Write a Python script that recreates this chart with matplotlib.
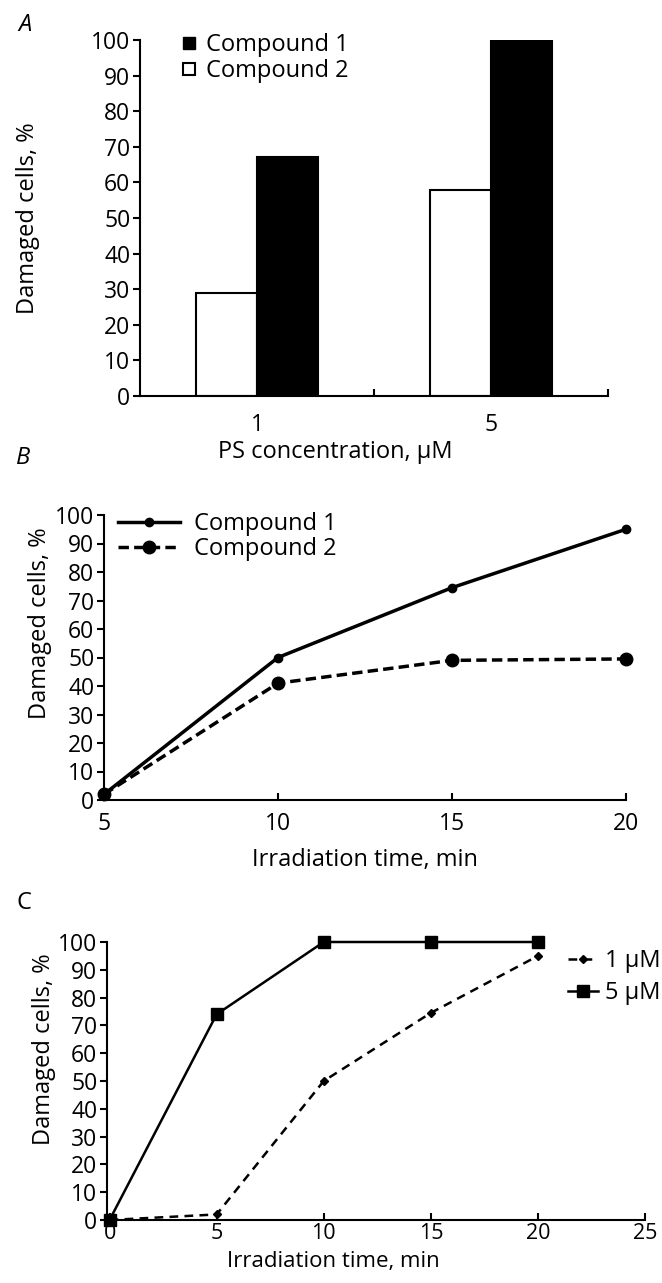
import numpy as np
import matplotlib
matplotlib.use('Agg')
import matplotlib.pyplot as plt
from matplotlib.lines import Line2D

plt.rcParams['font.family'] = ['Open Sans', 'DejaVu Sans']
plt.rcParams['axes.linewidth'] = 1.5

# Panel A : bars
conc_labels = ['1', '5']
comp1_bar = [67, 100]
comp2_bar = [29, 58]

# Panel B : irradiation time, compounds
time_b = [5, 10, 15, 20]
comp1_line = [2, 50, 74.5, 95]
comp2_line = [2, 41, 49, 49.5]

# Panel C : irradiation time, concentrations
time_c = [0, 5, 10, 15, 20]
conc1_line = [0, 2, 50, 74.5, 95]
conc5_line = [0, 74, 100, 100, 100]

W, H = 662, 1283
fig = plt.figure(figsize=(W / 100, H / 100), dpi=100)

fs_lab = 17
fs_tick = 16.5


def px_axes(l, t, r, b):
    return fig.add_axes([l / W, 1 - b / H, (r - l) / W, (b - t) / H])


def style(ax):
    ax.spines['top'].set_visible(False)
    ax.spines['right'].set_visible(False)
    ax.tick_params(axis='y', direction='out', length=5, width=1.5, labelsize=fs_tick, pad=2)
    ax.tick_params(axis='x', direction='in', length=5, width=1.5, labelsize=fs_tick, pad=6)
    ax.set_ylim(0, 100)
    ax.set_yticks(np.arange(0, 101, 10))


# ---------- A
axA = px_axes(140, 40, 608, 396)
style(axA)
x = np.arange(len(conc_labels))
w = 0.26
axA.bar(x - w / 2, comp2_bar, w, color='white', edgecolor='black', linewidth=1.5)
axA.bar(x + w / 2, comp1_bar, w, color='black', edgecolor='black', linewidth=1.5)
axA.set_xlim(-0.5, 1.5)
axA.set_xticks(x)
axA.set_xticklabels(conc_labels)
axA.set_xticks([0.5, 1.5], minor=True)
axA.tick_params(axis='x', which='major', length=0, pad=12)
axA.tick_params(axis='x', which='minor', direction='in', length=5, width=1.5)
axA.set_xlabel('PS concentration, μM', fontsize=fs_lab)
axA.xaxis.set_label_coords(0.417, -0.125)
axA.set_ylabel('Damaged cells, %', fontsize=fs_lab)
axA.yaxis.set_label_coords(-0.214, 0.5)
hA = [Line2D([], [], ls='none', marker='s', ms=8, mfc='black', mec='black'),
      Line2D([], [], ls='none', marker='s', ms=8, mfc='white', mec='black', mew=1.5)]
axA.legend(hA, ['Compound 1', 'Compound 2'], loc='upper left', bbox_to_anchor=(0.06, 1.06),
           frameon=False, fontsize=fs_lab, handlelength=0.6, handletextpad=0.4,
           labelspacing=0.1, borderpad=0.1)
fig.text(18 / W, 1 - 25 / H, 'A', fontsize=fs_lab, style='italic', va='center')

# ---------- B
axB = px_axes(104, 515, 626, 800)
style(axB)
axB.plot(time_b, comp1_line, '-', color='black', lw=2.5, marker='o', ms=6, clip_on=False,
         label='Compound 1', zorder=4)
axB.plot(time_b, comp2_line, '--', color='black', lw=2.5, marker='o', ms=9, clip_on=False,
         label='Compound 2', dashes=(3, 1.5), zorder=3)
axB.set_xlim(5, 20)
axB.set_xticks(time_b)
axB.tick_params(axis='x', pad=9)
axB.set_xlabel('Irradiation time, min', fontsize=fs_lab, labelpad=8)
axB.set_ylabel('Damaged cells, %', fontsize=fs_lab)
axB.yaxis.set_label_coords(-0.10, 0.62)
axB.legend(loc='upper left', bbox_to_anchor=(0.0, 1.06), frameon=False, fontsize=fs_lab,
           handlelength=2.6, handletextpad=0.6, labelspacing=0.05, borderpad=0.1)
fig.text(16 / W, 1 - 458 / H, 'B', fontsize=fs_lab, style='italic', va='center')

# ---------- C
axC = px_axes(107, 942, 645, 1220)
style(axC)
axC.plot(time_c, conc1_line, '--', color='black', lw=1.8, marker='D', ms=4, clip_on=False,
         label='1 μM', dashes=(3.5, 2.5), zorder=3)
axC.plot(time_c, conc5_line, '-', color='black', lw=1.8, marker='s', ms=8, clip_on=False,
         label='5 μM', zorder=4)
axC.set_xlim(-0.12, 25)
axC.set_xticks(np.arange(0, 26, 5))
axC.tick_params(axis='x', pad=2, labelsize=15.5)
axC.set_xlabel('Irradiation time, min', fontsize=16)
axC.xaxis.set_label_coords(0.42, -0.112)
axC.set_ylabel('Damaged cells, %', fontsize=fs_lab)
axC.yaxis.set_label_coords(-0.095, 0.615)
axC.legend(loc='upper left', bbox_to_anchor=(0.83, 1.025), frameon=False, fontsize=fs_lab,
           handlelength=1.3, handletextpad=0.3, labelspacing=0.35, borderpad=0.1)
fig.text(16 / W, 1 - 903 / H, 'C', fontsize=fs_lab, va='center')

fig.savefig('out.png', dpi=100)
